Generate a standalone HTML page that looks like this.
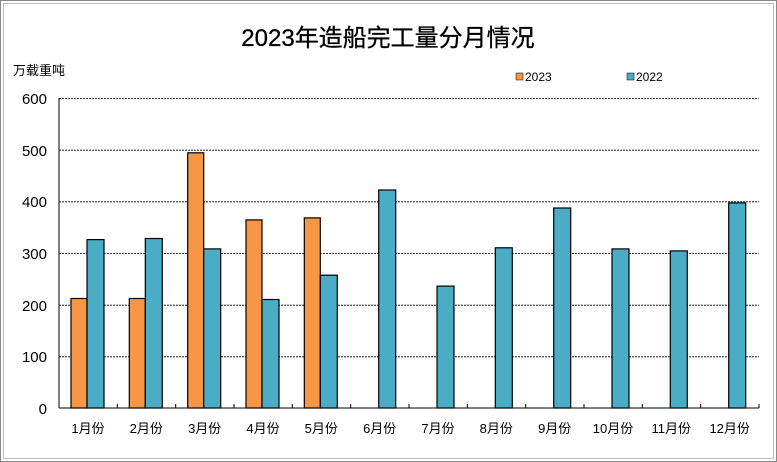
<!DOCTYPE html>
<html><head><meta charset="utf-8"><style>
body{margin:0;background:#fff}
svg{display:block}
text{font-family:"Liberation Sans","Noto Sans CJK SC",sans-serif;fill:#000}
</style></head><body>
<svg width="777" height="462" viewBox="0 0 777 462" xmlns="http://www.w3.org/2000/svg">
<rect x="0.5" y="0.5" width="776" height="461" fill="#fff" stroke="#888"/>
<rect x="3.5" y="3.5" width="770" height="455" fill="none" stroke="#bbb"/>
<text x="388" y="46" font-size="24" text-anchor="middle" stroke="#000" stroke-width="0.3">2023年造船完工量分月情况</text>
<text x="13" y="75" font-size="13">万载重吨</text>
<rect x="516" y="73" width="7" height="7" fill="#F79646" stroke="#000" stroke-width="0.5"/>
<text x="525" y="81" font-size="12">2023</text>
<rect x="627" y="73" width="7" height="7" fill="#4BACC6" stroke="#000" stroke-width="0.5"/>
<text x="636" y="81" font-size="12">2022</text>
<g stroke="#000" stroke-width="0.8" stroke-dasharray="2,1">
<line x1="59" y1="98.5" x2="759" y2="98.5"/>
<line x1="59" y1="150.2" x2="759" y2="150.2"/>
<line x1="59" y1="201.8" x2="759" y2="201.8"/>
<line x1="59" y1="253.5" x2="759" y2="253.5"/>
<line x1="59" y1="305.2" x2="759" y2="305.2"/>
<line x1="59" y1="356.8" x2="759" y2="356.8"/>
</g>
<g font-size="15" text-anchor="end">
<text x="47" y="104">600</text><text x="47" y="156">500</text><text x="47" y="207">400</text>
<text x="47" y="259">300</text><text x="47" y="311">200</text><text x="47" y="362">100</text><text x="47" y="414">0</text>
</g>
<g stroke="#000" stroke-width="1.2">
<rect x="71" y="298.5" width="16" height="109.5" fill="#F79646"/>
<rect x="129.3" y="298.5" width="16" height="109.5" fill="#F79646"/>
<rect x="187.7" y="152.8" width="16" height="255.2" fill="#F79646"/>
<rect x="246" y="219.9" width="16" height="188.1" fill="#F79646"/>
<rect x="304.3" y="217.9" width="16" height="190.1" fill="#F79646"/>
<rect x="87" y="239.6" width="17" height="168.4" fill="#4BACC6"/>
<rect x="145.3" y="238.5" width="17" height="169.5" fill="#4BACC6"/>
<rect x="203.7" y="248.9" width="17" height="159.1" fill="#4BACC6"/>
<rect x="262" y="299.5" width="17" height="108.5" fill="#4BACC6"/>
<rect x="320.3" y="275.2" width="17" height="132.8" fill="#4BACC6"/>
<rect x="378.7" y="190" width="17" height="218" fill="#4BACC6"/>
<rect x="437" y="286.1" width="17" height="121.9" fill="#4BACC6"/>
<rect x="495.3" y="247.8" width="17" height="160.2" fill="#4BACC6"/>
<rect x="553.7" y="208" width="17" height="200" fill="#4BACC6"/>
<rect x="612" y="248.9" width="17" height="159.1" fill="#4BACC6"/>
<rect x="670.3" y="250.9" width="17" height="157.1" fill="#4BACC6"/>
<rect x="728.7" y="202.9" width="17" height="205.1" fill="#4BACC6"/>
</g>
<g stroke="#000" stroke-width="1">
<line x1="59" y1="98" x2="59" y2="408"/>
<line x1="59" y1="408" x2="759" y2="408"/>
<line x1="117.3" y1="408" x2="117.3" y2="404"/><line x1="175.7" y1="408" x2="175.7" y2="404"/>
<line x1="234" y1="408" x2="234" y2="404"/><line x1="292.3" y1="408" x2="292.3" y2="404"/>
<line x1="350.7" y1="408" x2="350.7" y2="404"/><line x1="409" y1="408" x2="409" y2="404"/>
<line x1="467.3" y1="408" x2="467.3" y2="404"/><line x1="525.7" y1="408" x2="525.7" y2="404"/>
<line x1="584" y1="408" x2="584" y2="404"/><line x1="642.3" y1="408" x2="642.3" y2="404"/>
<line x1="700.7" y1="408" x2="700.7" y2="404"/><line x1="759" y1="408" x2="759" y2="404"/>
</g>
<g font-size="13" text-anchor="middle">
<text x="88" y="433">1月份</text><text x="146.3" y="433">2月份</text><text x="204.7" y="433">3月份</text>
<text x="263" y="433">4月份</text><text x="321.3" y="433">5月份</text><text x="379.7" y="433">6月份</text>
<text x="438" y="433">7月份</text><text x="496.3" y="433">8月份</text><text x="554.7" y="433">9月份</text>
<text x="613" y="433">10月份</text><text x="671.3" y="433">11月份</text><text x="729.7" y="433">12月份</text>
</g>
</svg>
</body></html>
